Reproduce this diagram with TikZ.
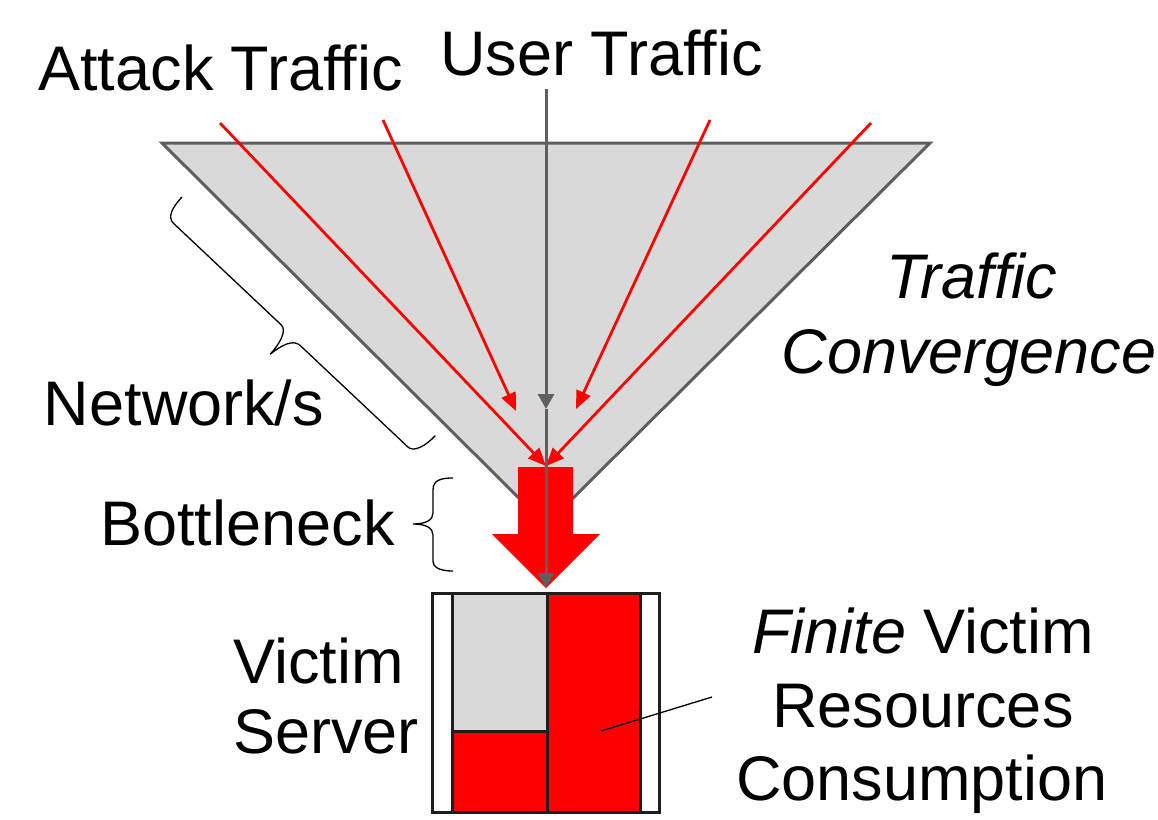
\documentclass[tikz,border=0pt]{standalone}
\usepackage{fontspec}
\setmainfont{Liberation Sans}
\usetikzlibrary{arrows.meta}
\definecolor{lgray}{HTML}{D9D9D9}
\definecolor{dgray}{HTML}{5F5F5F}
\definecolor{boxblack}{HTML}{1E1E1E}
\begin{document}
\begin{tikzpicture}[x=1pt,y=-1pt,
  lbl/.style={font=\fontsize{63}{74}\selectfont, inner sep=0pt, anchor=base},
  funnel/.style={fill=lgray, draw=dgray, line width=3pt, line join=miter},
  redarrow/.style={draw=red, line width=2.8pt, -{Triangle[length=18pt,width=15pt]}},
  grayarrow/.style={draw=dgray, line width=3pt, -{Triangle[length=15pt,width=16pt]}},
  bracestyle/.style={draw=black, line width=1.3pt},
  cell/.style={draw=boxblack, line width=3pt}
]
\useasboundingbox (0,0) rectangle (1158,819);

% funnel
\coordinate (TL) at (162,143);
\coordinate (TR) at (930,143);
\coordinate (AP) at (546,525);
\draw[funnel] (TL) -- (TR) -- (AP) -- cycle;

% labels
\node[lbl] (attack) at (220.5,90) {Attack Traffic};
\node[lbl] (user) at (601.5,75) {User Traffic};
\node[lbl] (tc1) at (972,298) {\itshape Traffic};
\node[lbl] (tc2) at (969,373) {\itshape Convergence};
\node[lbl] (net) at (184,425) {Network/s};
\node[lbl] (bott) at (247.5,545) {Bottleneck};
\node[lbl, anchor=base west] (vs1) at (233,683) {Victim};
\node[lbl, anchor=base west] (vs2) at (233,753) {Server};
\node[lbl] (fv1) at (923,653) {\textit{Finite} Victim};
\node[lbl] (fv2) at (923,727) {Resources};
\node[lbl] (fv3) at (922,800) {Consumption};

% red converging traffic
\coordinate (r1) at (220,123);
\coordinate (r2) at (383,120);
\coordinate (r3) at (710,120);
\coordinate (r4) at (871,123);
\coordinate (conv) at (546,466);
\coordinate (t2) at (516,411);
\coordinate (t3) at (576,409);
\draw[redarrow] (r1) -- (conv);
\draw[redarrow] (r4) -- (conv);
\draw[redarrow] (r2) -- (t2);
\draw[redarrow] (r3) -- (t3);

% big bottleneck arrow
\fill[red] (518,467) -- (573,467) -- (573,534) -- (600,534) -- (546,588)
  -- (492,534) -- (518,534) -- cycle;

% user traffic line
\coordinate (u0) at (546,89);
\coordinate (u1) at (546,409);
\coordinate (u2) at (546,588);
\draw[grayarrow] (u0) -- (u1);
\draw[grayarrow] (u1) -- (u2);

% victim server box
\draw[cell, fill=white] (432,593) rectangle (659,812);
\draw[cell, fill=lgray] (452,593) rectangle (547,731);
\draw[cell, fill=red] (452,731) rectangle (547,812);
\draw[cell, fill=red] (547,593) rectangle (640,812);

% leader line
\coordinate (lead0) at (601,731);
\coordinate (lead1) at (712,697);
\draw[line width=1.3pt, black] (lead0) -- (lead1);

% network brace (local u along edge, v away from funnel)
\begin{scope}[shift={(182,197)}, rotate=-43.3]
\draw[bracestyle] (0,0) .. controls (0,14) and (3,25) .. (12,25)
  -- (160,25) .. controls (168,25) and (172,40) .. (172,54)
  .. controls (174,40) and (178,27) .. (188,27)
  -- (336,27) .. controls (344,27) and (348,14) .. (348,0);
\end{scope}

% bottleneck brace
\draw[bracestyle] (453,478) .. controls (441,478) and (433,480) .. (433,490)
  -- (433,513) .. controls (433,520) and (426,524) .. (413,524)
  .. controls (426,524) and (433,528) .. (433,535)
  -- (433,561) .. controls (433,568) and (441,571) .. (453,571);
\end{tikzpicture}
\end{document}
